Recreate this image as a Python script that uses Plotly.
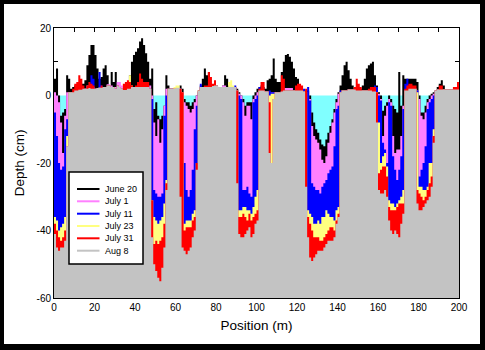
import plotly.graph_objects as go

# ---------------- data (depth in cm along transect position in m) ----------------
position_m = list(range(0, 201))

june20 = [
    5, 8, 0, -6, -5, -4, 6, 5, 2, 2.5,
    3, 3, 3, 3.5, 3.5, 4.5, 9, 12, 15, 15,
    12, 8, 5, 5.5, 8, 9, 6, 3, 7, 4,
    7, 3, 2.5, 2, 2, 2.5, 3, 6, 10, 12,
    13, 14, 16, 17, 15, 12.5, 10, 5, 8, -4,
    -2, -6, -7, -6, -3, 6, 3, 2, 2, 2,
    2, 2, 3, 2, -1, -2, -2, -3, -2, -1,
    0, 1.5, 3, 5, 8, 6, 7, 3.5, 2.5, 2.5,
    2.5, 2.5, 2.5, 3, 6, 5, 3, 2.5, 2.5, 2.5,
    2, 1, 0, -1, -3, -2, -2, -2, 0, 1,
    2, 2.5, 3, 2.5, 2, 4.5, 5, 6, 11, 5,
    4, 4, 7, 10, 12, 12.3, 11.5, 10, 8, 5.5,
    5, 3, 2, 1.5, 1.5, 1.5, 0, -5, -8, -10,
    -11, -13, -14.5, -15, -13, -11, -9, -7, -4, -1,
    1, 3, 6, 9, 10, 7.5, 5, 3, 2, 2,
    2, 2, 3, 5, 8, 9, 9.5, 10, 6, 3,
    1, 0, -4.5, -3, -2, 0, -1, -3, -4, -5,
    7, -3, 6, 5, 5, 5, 5, 5, 5, 4,
    0, -5, -5, -3, -1, 0, 0.5, 1, 1.5, 2.5,
    3.5, 4.5, 3, 1.8, 1.8, 1.8, 1.8, 2, 1.8, 1.8,
    1.8,
]

july1 = [
    1, 0, -2, -8, -17, -6, 1, 1, 1, 1,
    1.5, 1.5, 1.7, 1.7, 2, 2, 3, 3, 3, 2.5,
    2, 2.2, 2.3, 2.3, 2.5, 2.5, 3.3, 3.3, 3, 2.5,
    2.5, 4, 4, 3, 1.6, 1.6, 2, 2, 2.5, 2.5,
    2.5, 2.5, 2.5, 2.5, 2.5, 2.5, 2.5, 3, 0, -8,
    -12, -7, -14, -10, -3, 2, 2, 2, 2, 2,
    2, 2, 2, 1, -2, -3, -4, -5, -4, -2,
    0, 1, 2.5, 2.5, 2.5, 2.5, 2.5, 2.5, 2.8, 3,
    3, 2.5, 2.5, 3, 3, 2.5, 2.5, 2.5, 2.5, 2.5,
    1.5, 0.5, 0, -2, -6, -3, -3, -7, -1, 0,
    1, 1.5, 1.5, 1.5, 1.2, 1.2, 1, 1, 1, 1,
    1, 1, 1.2, 2.2, 2.2, 2.2, 2.2, 2.2, 1.5, 1.5,
    1.5, 1.5, 1.5, 1.2, 1, 1, -1, -9, -12, -13,
    -14, -16, -19, -20, -18, -14, -11, -8, -5, -2,
    0.5, 1, 1.5, 1.5, 1.5, 1.8, 1.8, 1.8, 1.8, 1.5,
    1.5, 1.5, 1.5, 1.5, 1.5, 1.5, 1.5, 1.2, 1.2, 1.5,
    0.5, -1, -12, -6, -3, -1, -2, -12, -17, -16,
    -16, -12, -3, 1.5, 1.5, 2.5, 2.5, 2.5, 2, 1.5,
    -1, -6, -7, -5, -2, -1, 0, 0.5, 1.5, 1.8,
    1.8, 1.8, 1.8, 1.8, 1.8, 1.8, 1.8, 1.8, 1.8, 1.8,
    1.8,
]

july11 = [
    -5, -12, -20, -22, -21, -10, -7, 1, 1, 1,
    1.5, 1.5, 1.7, 1.7, 2, 2, 2, 2.2, 6, 5,
    2, 2.2, 7, 3, 2.5, 2.5, 3, 3, 2.5, 2.5,
    2, 3, 2.5, 2, 1.6, 1.6, 2, 2, 2.5, 2.5,
    2.5, 2.5, 2.5, 2.5, 2.5, 2.5, 2.5, 2, -1, -28,
    -29, -30, -30, -29, -6, 0, 2, 2, 2, 2,
    2, 2, 2, 1, -20, -28, -30, -28, -22, -10,
    -3, 1, 3.5, 2.5, 2.5, 2.5, 3, 2.5, 2.8, 3,
    3, 2.5, 2.5, 2.5, 2.5, 2.5, 2.5, 2.5, 2.5, 3,
    1.5, 0, -1, -28, -28, -27, -29, -30, -2, -1,
    0, 2.5, 1.5, 1.5, 1.2, 1.2, 1.5, 1, 1, 1,
    1, 1, 1.2, 1.5, 1.5, 1.5, 1.5, 1.5, 1.5, 1.5,
    1.5, 1.5, 1.5, 2, 1, 2.5, -1.5, -26, -27, -28,
    -28, -29, -27, -26, -25, -23, -22, -21, -15, -4,
    -3, 1.5, 1.5, 1.5, 1.5, 1.8, 1.8, 1.8, 1.8, 1.5,
    1.5, 1.5, 1.5, 1.5, 1.5, 1.5, 1.5, 2.5, 3, 2.5,
    0, -1.5, -14, -16, -20, -2, -3, -18, -22, -25,
    -22, -18, -4, 3.5, 5, 2, 2, 2, 2, 1.5,
    -24, -22, -20, -15, -4, -2, -1, 0, 1.5, 1.8,
    1.8, 1.8, 1.8, 1.8, 1.8, 1.8, 1.8, 1.8, 1.8, 1.8,
    1.8,
]

july23 = [
    -36, -37, -40, -39, -38, -36, -12, 1, 1, 1,
    1.5, 1.5, 1.7, 1.7, 2, 2, 2, 2.2, 2, 2,
    2, 2.2, 2.3, 2.3, 2.5, 2.5, 3, 3, 2.5, 2.5,
    2, 3, 2.5, 2, 1.6, 2, 3, 6, 3, 2.5,
    2.5, 2.5, 2.5, 2.5, 2.5, 2.5, 2.5, 2, -31, -36,
    -37, -38, -37, -36, -32, -25, 2, 2, 2, 2.5,
    3, 3, 2, 1, -38, -37, -37, -37, -35, -34,
    -20, 1.5, 2.5, 2.5, 2.5, 2.5, 2.5, 2.5, 2.8, 3,
    3, 2.5, 2.5, 2.5, 2.5, 2.5, 4, 4.5, 3, 2.5,
    1.5, -34, -34, -33, -33, -34, -34, -35, -33, -30,
    -28, 1.5, 1.5, 1.5, 1.2, 1.2, 0, 0.5, 0.5, 1,
    1, 1, 1.2, 1.5, 1.5, 1.5, 1.5, 1.5, 1.5, 1.5,
    1.5, 1.5, 1.5, 1.2, 1, -34, -35, -36, -38, -38,
    -37, -38, -36, -36, -34, -35, -36, -36, -37, -34,
    -33, 1, 1.5, 1.5, 1.5, 1.8, 1.8, 1.8, 1.8, 1.5,
    1.5, 1.5, 1.5, 1.5, 1.5, 1.5, 1.5, 1.2, 1.2, 1,
    -8, -20, -18, -17, -21, -31, -32, -32, -33, -32,
    -31, -30, -28, 1.5, 1.5, 2, 2, 2, 2, 1,
    -27, -27, -28, -28, -27, -20, -20, -10, 1.5, 1.8,
    1.8, 1.8, 1.8, 1.8, 1.8, 1.8, 1.8, 1.8, 1.8, 1.8,
    1.8,
]

july31 = [
    -38, -40, -42, -43, -42, -40, -15, 1, 1, 2,
    3.5, 4, 6, 5, 3, 2, 3, 4, 3.5, 3,
    2, 2.2, 2.3, 3, 2.5, 2.5, 3, 3, 2.5, 2.5,
    2, 3, 2.5, 2, 3.5, 4, 4.5, 4, 3, 2.5,
    3, 4, 6.5, 5, 4, 4, 4, 2, -31, -44,
    -43, -44, -43, -42, -38, -26, 2, 2, 2, 2,
    2, 2, 2, 1, -40, -39, -39, -39, -37, -36,
    -20, 1.5, 2.5, 2.5, 3, 3, 7, 5.5, 3.5, 4.5,
    3, 2.5, 2.5, 2.5, 2.5, 2.5, 2.5, 2.5, 2.5, 2.5,
    1.5, -36, -36, -35, -36, -37, -35, -37, -36, -35,
    -34, 2, 4, 4, 1.2, 1.2, -2, -20, -1, 1,
    1, 1, 6, 5, 1.5, 1.5, 1.5, 1.5, 1.5, 3,
    3.5, 3.5, 3, 1.2, 2, -36, -38, -40, -42, -42,
    -42, -43, -43, -42, -41, -40, -39, -39, -40, -37,
    -35, 1, 1.5, 1.5, 1.5, 1.8, 1.8, 1.8, 2.5, 5,
    3.5, 2.5, 1.5, 1.5, 1.5, 2, 2.5, 2.5, 2.5, 1,
    -23, -22, -21, -21, -24, -33, -34, -34, -34, -33,
    -32, -32, -32, 2, 3, 3.5, 3.5, 3, 3, -28,
    -29, -30, -31, -30, -28, -26, -24, -12, 1.5, 1.8,
    3, 3, 1.8, 1.8, 1.8, 1.8, 1.8, 2.5, 2.5, 4,
    4.5,
]

aug8 = [
    -41, -45, -46, -45, -45, -43, -15, 1, 1, 1,
    1.5, 1.5, 1.7, 1.7, 2, 2, 2, 2.2, 2, 2,
    2, 2.2, 2.3, 2.3, 2.5, 2.5, 3, 3, 2.5, 2.5,
    2, 3, 2.5, 2, 1.6, 1.6, 2, 2, 2.5, 2.5,
    2.5, 2.5, 2.5, 2.5, 2.5, 2.5, 2.5, 2, -42, -50,
    -52, -54, -55, -51, -45, -28, 2, 2, 2, 2,
    2.3, 2.3, -30, -45, -46, -47, -46, -45, -42, -40,
    -22, 1.5, 2.5, 2.5, 2.5, 2.5, 2.5, 2.5, 2.8, 3,
    3, 2.5, 2.5, 2.5, 2.5, 2.5, 2.5, 2.5, 2.5, 2.5,
    -26, -41, -42, -42, -41, -40, -39, -42, -41, -38,
    -37, 1.5, 1.5, 1.5, 1.2, 1.2, -17, -20, -1, 1,
    1, 1, 1.2, 1.5, 1.5, 1.5, 1.5, 1.5, 1.5, 1.5,
    1.5, 1.5, 1.5, 1.2, -27, -42, -48, -49, -48, -47,
    -46, -46, -46, -45, -44, -43, -43, -43, -42, -38,
    -36, 1, 1.5, 1.5, 1.5, 1.8, 1.8, 1.8, 1.8, 1.5,
    1.5, 1.5, 1.5, 1.5, 1.5, 1.5, 1.5, 1.2, 1.2, -8,
    -28, -29, -29, -28, -30, -37, -40, -41, -40, -41,
    -42, -38, -35, 1.5, 1.5, 2, 2, 2, 2, -32,
    -34, -34, -33, -32, -31, -30, -27, -14, 1.5, 1.8,
    1.8, 1.8, 1.8, 1.8, 1.8, 1.8, 1.8, 1.8, 1.8, 1.8,
    1.8,
]

water_level = [0] * len(position_m)

series_names = ["June 20", "July 1", "July 11", "July 23", "July 31", "Aug 8"]
series_values = [june20, july1, july11, july23, july31, aug8]
series_colors = ["#000000", "#FF80FF", "#0000FF", "#FFFF80", "#FF0000", "#C3C3C3"]
water_color = "#80FFFF"

y_bottom, y_top = -60, 20
y_tickvals = [-60, -40, -20, 0, 20]
y_ticktext = ["-60", "-40", "-20", "0", "20"]

# ---------------- figure ----------------
fig = go.Figure()
base = [y_bottom] * len(position_m)


def add_fill(yvals, color, name=None):
    fig.add_trace(go.Scatter(x=position_m, y=base, mode="lines",
                             line=dict(width=0, shape="hv"),
                             hoverinfo="skip", showlegend=False))
    fig.add_trace(go.Scatter(x=position_m, y=yvals, mode="lines", name=name,
                             line=dict(width=0, shape="hv", color=color),
                             fill="tonexty", fillcolor=color,
                             showlegend=False))


add_fill(water_level, water_color)
for nm, vals, col in zip(series_names, series_values, series_colors):
    add_fill(vals, col, nm)

font_family = "Liberation Sans, Arial, sans-serif"

# ---- legend box drawn in paper coordinates (compact like the original) ----
plot_l, plot_r, plot_t, plot_b = 54, 459, 28, 298


def px_x(p):
    return (p - plot_l) / (plot_r - plot_l)


def px_y(p):
    return (plot_b - p) / (plot_b - plot_t)


shapes = [dict(type="rect", xref="paper", yref="paper",
               x0=px_x(4), x1=px_x(480), y0=px_y(344), y1=px_y(4),
               fillcolor="white", line=dict(width=0), layer="below"),
          dict(type="rect", xref="paper", yref="paper",
               x0=px_x(69), x1=px_x(143), y0=px_y(264), y1=px_y(172),
               fillcolor="white", line=dict(color="black", width=1.5), layer="above")]
annotations = []
row_y = [189, 201.3, 213.7, 226, 238.3, 250.7]
for nm, col, ry in zip(series_names, series_colors, row_y):
    shapes.append(dict(type="line", xref="paper", yref="paper",
                       x0=px_x(77), x1=px_x(99.5), y0=px_y(ry), y1=px_y(ry),
                       line=dict(color=col, width=2), layer="above"))
    annotations.append(dict(xref="paper", yref="paper", x=px_x(102.5), y=px_y(ry),
                            xanchor="left", yanchor="middle", text=nm, showarrow=False,
                            font=dict(family=font_family, size=9, color="black")))

fig.update_layout(
    width=485, height=350,
    margin=dict(l=plot_l, r=485 - plot_r, t=plot_t, b=350 - plot_b),
    paper_bgcolor="black",
    plot_bgcolor="white",
    font=dict(family=font_family, color="black", size=10),
    shapes=shapes,
    annotations=annotations,
    showlegend=False,
)

fig.update_xaxes(
    range=[0, 200], tick0=0, dtick=20,
    ticks="inside", ticklen=4, tickcolor="black", tickwidth=1,
    minor=dict(dtick=10, ticks="inside", ticklen=4, tickcolor="black"),
    showline=True, linecolor="black", linewidth=1, mirror="ticks",
    showgrid=False, zeroline=False, layer="below traces",
    tickfont=dict(size=10),
    title=dict(text="Position (m)", font=dict(size=13.5), standoff=8),
)
fig.update_yaxes(
    range=[y_bottom, y_top], tickvals=y_tickvals, ticktext=y_ticktext,
    ticks="inside", ticklen=4, tickcolor="black", tickwidth=1,
    minor=dict(tickvals=[-50, -30, -10, 10], ticks="inside", ticklen=4, tickcolor="black"),
    showline=True, linecolor="black", linewidth=1, mirror="ticks",
    showgrid=False, zeroline=False, layer="below traces",
    tickfont=dict(size=10),
    title=dict(text="Depth (cm)", font=dict(size=13.5), standoff=8),
)

fig.write_html("out.html")
